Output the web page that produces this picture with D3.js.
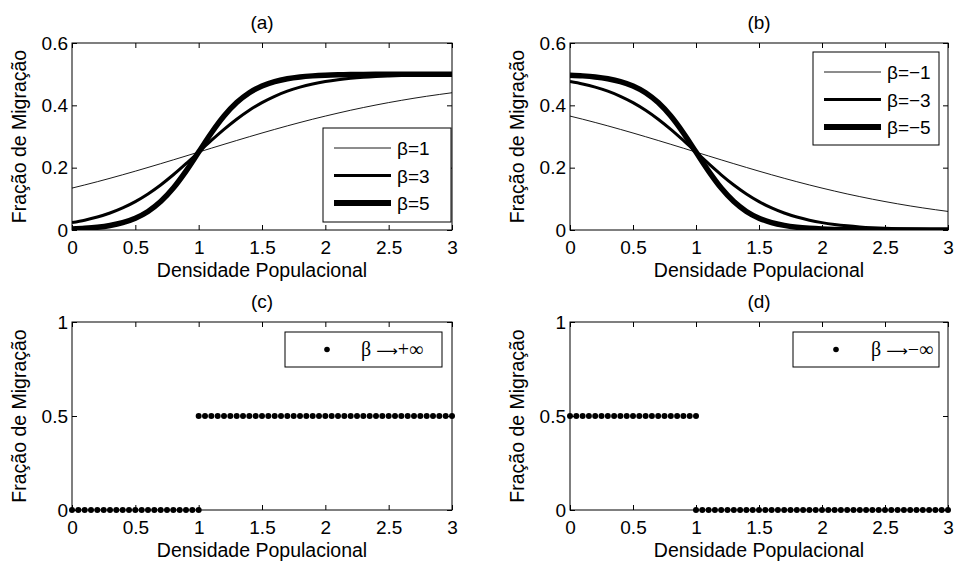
<!DOCTYPE html>
<html>
<head>
  <meta charset="UTF-8">
  <title>Fração de Migração</title>
  <style>
    body { margin: 0; background: #fff; }
    svg { display: block; font-family: "Liberation Sans", Arial, sans-serif; }
    .tick text { font-size: 19px; fill: #000; }
    .tick line { stroke: #000; }
  </style>
</head>
<body>
  <div id="chart"></div>
  <script src="https://d3js.org/d3.v7.min.js"></script>
  <script>
    // densidade populacional (curvas a e b)
    const densidade = [0, 0.1, 0.2, 0.3, 0.4, 0.5, 0.6, 0.7, 0.8, 0.9, 1.0,
      1.1, 1.2, 1.3, 1.4, 1.5, 1.6, 1.7, 1.8, 1.9, 2.0,
      2.1, 2.2, 2.3, 2.4, 2.5, 2.6, 2.7, 2.8, 2.9, 3.0];

    const fracaoBeta1 = [0.1345, 0.1445, 0.1550, 0.1659, 0.1772, 0.1888, 0.2007, 0.2128, 0.2251, 0.2375, 0.25,
      0.2625, 0.2749, 0.2872, 0.2993, 0.3112, 0.3228, 0.3341, 0.3450, 0.3555, 0.3655,
      0.3751, 0.3843, 0.3929, 0.4011, 0.4088, 0.4160, 0.4228, 0.4291, 0.4349, 0.4404];
    const fracaoBeta3 = [0.0237, 0.0315, 0.0416, 0.0545, 0.0709, 0.0912, 0.1157, 0.1445, 0.1772, 0.2128, 0.25,
      0.2872, 0.3228, 0.3555, 0.3843, 0.4088, 0.4291, 0.4455, 0.4584, 0.4685, 0.4763,
      0.4822, 0.4867, 0.4901, 0.4926, 0.4945, 0.4959, 0.4970, 0.4978, 0.4983, 0.4988];
    const fracaoBeta5 = [0.0033, 0.0055, 0.0090, 0.0147, 0.0237, 0.0379, 0.0596, 0.0912, 0.1345, 0.1888, 0.25,
      0.3112, 0.3655, 0.4088, 0.4404, 0.4621, 0.4763, 0.4853, 0.4910, 0.4945, 0.4967,
      0.4980, 0.4988, 0.4993, 0.4995, 0.4997, 0.4998, 0.4999, 0.4999, 0.5, 0.5];

    const fracaoBetaM1 = [0.3655, 0.3555, 0.3450, 0.3341, 0.3228, 0.3112, 0.2993, 0.2872, 0.2749, 0.2625, 0.25,
      0.2375, 0.2251, 0.2128, 0.2007, 0.1888, 0.1772, 0.1659, 0.1550, 0.1445, 0.1345,
      0.1249, 0.1157, 0.1071, 0.0989, 0.0912, 0.0840, 0.0772, 0.0709, 0.0651, 0.0596];
    const fracaoBetaM3 = [0.4763, 0.4685, 0.4584, 0.4455, 0.4291, 0.4088, 0.3843, 0.3555, 0.3228, 0.2872, 0.25,
      0.2128, 0.1772, 0.1445, 0.1157, 0.0912, 0.0709, 0.0545, 0.0416, 0.0315, 0.0237,
      0.0178, 0.0133, 0.0099, 0.0074, 0.0055, 0.0041, 0.0030, 0.0022, 0.0017, 0.0012];
    const fracaoBetaM5 = [0.4967, 0.4945, 0.4910, 0.4853, 0.4763, 0.4621, 0.4404, 0.4088, 0.3655, 0.3112, 0.25,
      0.1888, 0.1345, 0.0912, 0.0596, 0.0379, 0.0237, 0.0147, 0.0090, 0.0055, 0.0033,
      0.0020, 0.0012, 0.0007, 0.0005, 0.0003, 0.0002, 0.0001, 0.0001, 0, 0];

    // pontos (c e d)
    const densidadePontos = [0, 0.05, 0.1, 0.15, 0.2, 0.25, 0.3, 0.35, 0.4, 0.45, 0.5,
      0.55, 0.6, 0.65, 0.7, 0.75, 0.8, 0.85, 0.9, 0.95, 1.0,
      1.0, 1.05, 1.1, 1.15, 1.2, 1.25, 1.3, 1.35, 1.4, 1.45, 1.5,
      1.55, 1.6, 1.65, 1.7, 1.75, 1.8, 1.85, 1.9, 1.95, 2.0,
      2.05, 2.1, 2.15, 2.2, 2.25, 2.3, 2.35, 2.4, 2.45, 2.5,
      2.55, 2.6, 2.65, 2.7, 2.75, 2.8, 2.85, 2.9, 2.95, 3.0];
    const fracaoMaisInf = [0, 0, 0, 0, 0, 0, 0, 0, 0, 0, 0,
      0, 0, 0, 0, 0, 0, 0, 0, 0, 0,
      0.5, 0.5, 0.5, 0.5, 0.5, 0.5, 0.5, 0.5, 0.5, 0.5, 0.5,
      0.5, 0.5, 0.5, 0.5, 0.5, 0.5, 0.5, 0.5, 0.5, 0.5,
      0.5, 0.5, 0.5, 0.5, 0.5, 0.5, 0.5, 0.5, 0.5, 0.5,
      0.5, 0.5, 0.5, 0.5, 0.5, 0.5, 0.5, 0.5, 0.5, 0.5];
    const fracaoMenosInf = [0.5, 0.5, 0.5, 0.5, 0.5, 0.5, 0.5, 0.5, 0.5, 0.5, 0.5,
      0.5, 0.5, 0.5, 0.5, 0.5, 0.5, 0.5, 0.5, 0.5, 0.5,
      0, 0, 0, 0, 0, 0, 0, 0, 0, 0, 0,
      0, 0, 0, 0, 0, 0, 0, 0, 0, 0,
      0, 0, 0, 0, 0, 0, 0, 0, 0, 0,
      0, 0, 0, 0, 0, 0, 0, 0, 0, 0];

    const xTicks = [0, 0.5, 1, 1.5, 2, 2.5, 3];
    const yTicksCurvas = [0, 0.2, 0.4, 0.6];
    const yTicksPontos = [0, 0.5, 1];

    const rotulosA = ["β=1", "β=3", "β=5"];
    const rotulosB = ["β=−1", "β=−3", "β=−5"];
    const larguras = [0.9, 3, 5.5];

    const width = 954, height = 561;
    const svg = d3.select("#chart").append("svg")
      .attr("width", width)
      .attr("height", height);

    function eixos(p) {
      const g = svg.append("g");
      const x = d3.scaleLinear().domain([0, 3]).range([p.left, p.right]);
      const y = d3.scaleLinear().domain([0, p.yMax]).range([p.bottom, p.top]);
      const fmt = d => String(d);

      g.append("g")
        .attr("transform", "translate(0," + p.bottom + ")")
        .call(d3.axisBottom(x).tickValues(xTicks).tickFormat(fmt).tickSizeInner(-5).tickSizeOuter(0).tickPadding(11))
        .call(s => s.select(".domain").remove());
      g.append("g")
        .attr("transform", "translate(0," + p.top + ")")
        .call(d3.axisTop(x).tickValues(xTicks).tickFormat("").tickSizeInner(-5).tickSizeOuter(0))
        .call(s => s.select(".domain").remove());
      g.append("g")
        .attr("transform", "translate(" + p.left + ",0)")
        .call(d3.axisLeft(y).tickValues(p.yTicks).tickFormat(fmt).tickSizeInner(-5).tickSizeOuter(0).tickPadding(4))
        .call(s => s.select(".domain").remove());
      g.append("g")
        .attr("transform", "translate(" + p.right + ",0)")
        .call(d3.axisRight(y).tickValues(p.yTicks).tickFormat("").tickSizeInner(-5).tickSizeOuter(0))
        .call(s => s.select(".domain").remove());

      g.selectAll(".tick text").attr("font-family", null).attr("font-size", null);

      g.append("rect")
        .attr("x", p.left).attr("y", p.top)
        .attr("width", p.right - p.left).attr("height", p.bottom - p.top)
        .attr("fill", "none").attr("stroke", "#000").attr("stroke-width", 1);

      g.append("text")
        .attr("x", (p.left + p.right) / 2).attr("y", p.top - 14)
        .attr("text-anchor", "middle").attr("font-size", 19)
        .text(p.title);
      g.append("text")
        .attr("x", (p.left + p.right) / 2).attr("y", p.bottom + 47)
        .attr("text-anchor", "middle").attr("font-size", 19.5)
        .text("Densidade Populacional");
      g.append("text")
        .attr("transform", "translate(" + (p.left - 46) + "," + ((p.top + p.bottom) / 2) + ") rotate(-90)")
        .attr("text-anchor", "middle").attr("font-size", 19.5)
        .text("Fração de Migração");

      const clipId = "clip-" + p.id;
      svg.append("clipPath").attr("id", clipId)
        .append("rect")
        .attr("x", p.left).attr("y", p.top)
        .attr("width", p.right - p.left).attr("height", p.bottom - p.top);

      return { x: x, y: y, g: g, clipId: clipId };
    }

    function curvas(p, series, rotulos, leg) {
      const ax = eixos(p);
      const line = d3.line()
        .x((d, i) => ax.x(densidade[i]))
        .y(d => ax.y(d))
        .curve(d3.curveMonotoneX);

      const cg = ax.g.append("g").attr("clip-path", "url(#" + ax.clipId + ")");
      series.forEach((s, k) => {
        cg.append("path")
          .attr("d", line(s))
          .attr("fill", "none")
          .attr("stroke", "#000")
          .attr("stroke-width", larguras[k])
          .attr("stroke-linejoin", "round");
      });

      // legenda
      const lg = ax.g.append("g");
      lg.append("rect")
        .attr("x", leg.x).attr("y", leg.y).attr("width", leg.w).attr("height", leg.h)
        .attr("fill", "#fff").attr("stroke", "#000").attr("stroke-width", 1);
      rotulos.forEach((r, k) => {
        const yy = leg.y + 20 + k * 27.5;
        lg.append("line")
          .attr("x1", leg.x + 11).attr("x2", leg.x + 68)
          .attr("y1", yy).attr("y2", yy)
          .attr("stroke", "#000").attr("stroke-width", larguras[k] + (k == 2 ? 0.5 : 0));
        lg.append("text")
          .attr("x", leg.x + 74).attr("y", yy + 7)
          .attr("font-size", 19)
          .text(r);
      });
    }

    function pontos(p, valores, rotulo, leg) {
      const ax = eixos(p);
      ax.g.append("g").selectAll("circle")
        .data(valores)
        .join("circle")
        .attr("cx", (d, i) => ax.x(densidadePontos[i]))
        .attr("cy", d => ax.y(d))
        .attr("r", 3)
        .attr("fill", "#000");

      const lg = ax.g.append("g");
      lg.append("rect")
        .attr("x", leg.x).attr("y", leg.y).attr("width", leg.w).attr("height", leg.h)
        .attr("fill", "#fff").attr("stroke", "#000").attr("stroke-width", 1);
      lg.append("circle")
        .attr("cx", leg.x + leg.dot).attr("cy", leg.y + leg.h / 2)
        .attr("r", 2.8).attr("fill", "#000");
      const t = lg.append("text")
        .attr("x", leg.x + leg.txt).attr("y", leg.y + leg.h / 2 + 6)
        .attr("font-family", "'Liberation Serif', 'Times New Roman', serif")
        .attr("font-size", 20);
      t.append("tspan").text(rotulo[0] + " ");
      t.append("tspan").attr("font-family", "'DejaVu Sans', sans-serif").attr("font-size", 15).text("⟶");
      t.append("tspan").text(rotulo[1]);
    }

    curvas({ id: "a", left: 72, right: 452, top: 43, bottom: 230, yMax: 0.6, yTicks: yTicksCurvas, title: "(a)" },
      [fracaoBeta1, fracaoBeta3, fracaoBeta5], rotulosA,
      { x: 323, y: 128, w: 128, h: 94 });
    curvas({ id: "b", left: 570, right: 948, top: 43, bottom: 230, yMax: 0.6, yTicks: yTicksCurvas, title: "(b)" },
      [fracaoBetaM1, fracaoBetaM3, fracaoBetaM5], rotulosB,
      { x: 813, y: 52, w: 126, h: 93 });

    pontos({ id: "c", left: 72, right: 452, top: 322, bottom: 510, yMax: 1, yTicks: yTicksPontos, title: "(c)" },
      fracaoMaisInf, ["β", "+∞"],
      { x: 285, y: 332, w: 157, h: 35, dot: 42, txt: 76 });
    pontos({ id: "d", left: 570, right: 948, top: 322, bottom: 510, yMax: 1, yTicks: yTicksPontos, title: "(d)" },
      fracaoMenosInf, ["β", "−∞"],
      { x: 793, y: 332, w: 146, h: 35, dot: 43, txt: 78 });
  </script>
</body>
</html>
